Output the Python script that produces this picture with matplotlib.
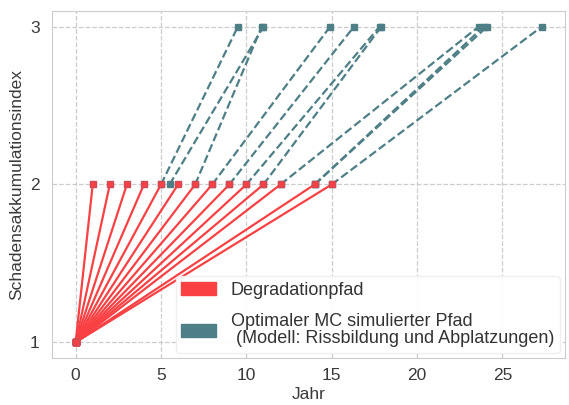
import matplotlib
matplotlib.use("Agg")
import matplotlib.pyplot as plt
import matplotlib.patches as mpatches

plt.rcParams['font.family'] = ['Liberation Sans', 'DejaVu Sans']

# Degradationspfade: Start (Jahr 0, Index 1) -> Jahr bei Index 2
deg_start = 0
deg_years = [1, 2, 3, 4, 5, 6, 7, 8, 9, 10, 11, 12, 14, 15]

# simulierte Pfade: Jahr bei Index 2 -> Jahr bei Index 3
mc_from = [5, 5.5, 7, 8, 9, 10, 11, 12, 14, 14, 15]
mc_to = [9.5, 11.0, 10.9, 14.9, 16.3, 17.8, 17.9, 23.6, 23.9, 24.1, 27.3]

red = '#f94144'
teal = '#4e7f86'

fig, ax = plt.subplots(figsize=(5.69, 4.05), dpi=100)
fig.subplots_adjust(left=0.092, right=0.993, bottom=0.116, top=0.973)

for x0, x1 in zip(mc_from, mc_to):
    ax.plot([x0, x1], [2, 3], linestyle='--', color=teal, lw=1.6,
            marker='s', ms=4, mfc=teal, mec=teal, zorder=2)

for x in deg_years:
    ax.plot([deg_start, x], [1, 2], color=red, lw=1.6,
            marker='s', ms=4, mfc=red, mec='#d04a55', zorder=3)

ax.set_xticks([0, 5, 10, 15, 20, 25])
ax.set_yticks([1, 2, 3])
ax.tick_params(axis='x', pad=7)
ax.tick_params(axis='y', pad=9)
ax.tick_params(length=0, labelsize=12.5, colors='#3a3a3a')
ax.grid(True, linestyle='--', color='#cccccc', lw=0.9)
ax.set_axisbelow(True)
for s in ax.spines.values():
    s.set_color('#cccccc')

ax.set_xlabel('Jahr', fontsize=12.5, color='#3a3a3a', labelpad=3)
ax.set_ylabel('Schadensakkumulationsindex', fontsize=12.5, color='#3a3a3a', labelpad=4)

handles = [mpatches.Patch(color=red, label='Degradationpfad'),
           mpatches.Patch(color=teal, label='Optimaler MC simulierter Pfad\n (Modell: Rissbildung und Abplatzungen)')]
leg = ax.legend(handles=handles, loc='lower right', fontsize=13, handlelength=1.95,
                handleheight=0.72, handletextpad=0.8, frameon=True, framealpha=0.92,
                edgecolor='#eeeeee', borderaxespad=0.3, labelspacing=0.8,
                borderpad=0.3)
for t in leg.get_texts():
    t.set_color('#333333')
    t.set_linespacing(1.0)

fig.savefig('out.png', dpi=100)
